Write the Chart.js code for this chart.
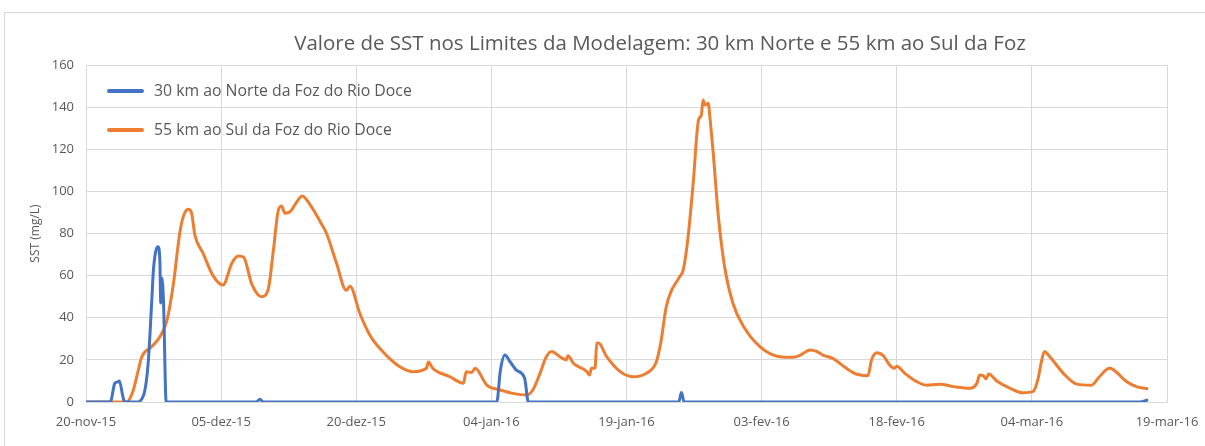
<!DOCTYPE html>
<html>
<head>
<meta charset="utf-8">
<script src="https://cdn.jsdelivr.net/npm/chart.js@4/dist/chart.umd.min.js"></script>
<style>
  html, body { margin: 0; padding: 0; background: #fff; }
  #wrap { position: relative; width: 1205px; height: 446px; }
  #frame { position: absolute; left: 4px; top: 12px; right: 0; bottom: 0;
           border-left: 1px solid #d9d9d9; border-top: 1px solid #d9d9d9; }
  canvas { position: absolute; left: 0; top: 0; }
</style>
</head>
<body>
<div id="wrap">
  <div id="frame"></div>
  <canvas id="sstChart" width="1205" height="446"></canvas>
</div>
<script>
// dados (dias desde 20-nov-15)
const chartTitle = 'Valore de SST nos Limites da Modelagem: 30 km Norte e 55 km ao Sul da Foz';
const yTitle = 'SST (mg/L)';
const xTickLabels = ['20-nov-15', '05-dez-15', '20-dez-15', '04-jan-16', '19-jan-16',
                     '03-fev-16', '18-fev-16', '04-mar-16', '19-mar-16'];

const norteLabel = '30 km ao Norte da Foz do Rio Doce';
const norteDays = [0, 2.7, 3.2, 3.5, 3.7, 4.1, 4.3, 5.6, 6.4, 6.9, 7.3, 7.5, 8.0, 8.2, 8.3, 8.4, 8.6, 8.9,
                   18.9, 19.3, 19.7, 45.6, 46.0, 46.5, 47.1, 47.8, 48.7, 49.1, 65.8, 66.1, 66.4, 117.0, 117.9];
const norteValues = [0, 0, 8.9, 9.5, 10, 2.5, 0, 0, 3.3, 18.4, 48, 63.5, 73.7, 67, 47, 59, 48, 0,
                     0, 1.3, 0, 0, 15, 22.3, 19, 15, 11.2, 0, 0, 4.5, 0, 0, 1];

const sulLabel = '55 km ao Sul da Foz do Rio Doce';
const sulDays = [0, 4.5, 5.2, 5.8, 6.2, 7.3, 8.2, 9.0, 9.7, 10.4, 10.8, 11.35, 11.7, 12.1, 13.0, 14.1, 15.2,
                 16.2, 16.9, 17.5, 18.4, 19.5, 20.2, 20.8, 21.3, 21.7, 22.1, 22.7, 23.4, 24.0, 24.9, 26.0,
                 26.7, 27.8, 28.9, 29.3, 30.4, 31.5, 32.6, 34.8, 36.3, 37.8, 38.0, 38.5, 40.4, 41.9, 42.2,
                 42.8, 43.2, 44.5, 46.0, 47.4, 48.9, 49.6, 50.4, 51.1, 51.7, 52.6, 53.3, 53.5, 54.1, 55.6,
                 55.9, 56.1, 56.5, 56.7, 56.9, 57.8, 59.3, 60.7, 62.2, 63.3, 63.8, 64.4, 65.0, 65.4, 65.9,
                 66.3, 66.8, 67.4, 68.0, 68.3, 68.5, 68.7, 69.1, 69.2, 69.6, 70.2, 70.9, 71.8, 73.0, 74.8,
                 77.0, 78.5, 79.2, 80.4, 81.1, 81.8, 82.9, 84.4, 85.5, 86.8, 87.2, 87.8, 88.5, 89.2, 89.7,
                 90.0, 90.9, 92.2, 93.3, 94.8, 96.3, 98.1, 98.9, 99.2, 99.6, 99.9, 100.2, 101.1, 102.6,
                 104.0, 105.1, 105.7, 106.0, 106.4, 106.9, 108.5, 110.0, 111.6, 112.5, 113.6, 114.0,
                 115.5, 116.6, 117.9];
const sulValues = [0, 0, 5, 15, 21.5, 26.3, 31, 39, 56, 80, 88, 91.5, 90, 79, 70.6, 60, 55.5,
                   66, 69.3, 68.7, 56, 50, 53, 72, 90, 93, 89.6, 90.5, 95, 97.8, 93.5, 85.6,
                   80, 66, 53, 55, 42, 31.8, 25.5, 16.8, 14.4, 16, 19, 16, 12, 8.9, 14.4,
                   14, 16, 8, 5.7, 4.1, 3.3, 5.7, 13.6, 21.5, 24, 21.5, 20, 22, 18.4, 14.4,
                   12.8, 16, 16, 27.9, 28, 21.5, 14.4, 12, 13.6, 19, 28, 45, 53, 56, 59.5,
                   62.7, 77, 103.8, 134, 136, 143.4, 141, 141.8, 138, 119.6, 88, 64, 47, 35.8, 26.3,
                   21.5, 21.2, 22, 24.7, 24, 22.3, 20.7, 16, 13.3, 12.5, 20, 23.4, 22, 17.6, 16,
                   17, 13.6, 9.7, 8, 8.4, 7.3, 6.5, 8.9, 12.8, 12.5, 11, 13.3, 10, 6.5,
                   4.4, 4.9, 11.2, 18, 24, 22, 13.6, 8.5, 8, 12, 16, 15.5,
                   9.7, 7.3, 6.2];

const FONT = '"Open Sans", "Noto Sans", sans-serif';
const TEXT_COLOR = '#595959';

function toPoints(days, values) {
    return days.map((d, i) => ({ x: d, y: values[i] }));
}

// título e legenda desenhados à mão (legenda fica dentro da área do gráfico)
const customText = {
    id: 'customText',
    afterDraw(chart) {
        const ctx = chart.ctx;
        const area = chart.chartArea;
        ctx.save();
        ctx.fillStyle = TEXT_COLOR;
        ctx.font = '20.5px ' + FONT;
        ctx.textAlign = 'center';
        ctx.textBaseline = 'middle';
        ctx.fillText(chartTitle, 660, 44);

        ctx.font = '15.8px ' + FONT;
        ctx.textAlign = 'left';
        chart.data.datasets.forEach((ds, i) => {
            const y = area.top + 26 + i * 39;
            ctx.strokeStyle = ds.borderColor;
            ctx.lineWidth = 4;
            ctx.lineCap = 'round';
            ctx.beginPath();
            ctx.moveTo(area.left + 23, y);
            ctx.lineTo(area.left + 56, y);
            ctx.stroke();
            ctx.fillText(ds.label, area.left + 68, y);
        });
        ctx.restore();
    }
};

const sstChart = new Chart(document.getElementById('sstChart'), {
    type: 'line',
    data: {
        datasets: [
            {
                label: norteLabel,
                data: toPoints(norteDays, norteValues),
                borderColor: '#4472C4',
                borderWidth: 3,
                pointRadius: 0,
                cubicInterpolationMode: 'monotone'
            },
            {
                label: sulLabel,
                data: toPoints(sulDays, sulValues),
                borderColor: '#ED7D31',
                borderWidth: 3,
                pointRadius: 0,
                cubicInterpolationMode: 'monotone'
            }
        ]
    },
    options: {
        responsive: false,
        animation: false,
        layout: { padding: { top: 65, right: 38, bottom: 0, left: 24 } },
        plugins: {
            legend: { display: false },
            title: { display: false },
            tooltip: { enabled: false }
        },
        scales: {
            x: {
                type: 'linear',
                min: 0,
                max: 120,
                ticks: {
                    stepSize: 15,
                    color: TEXT_COLOR,
                    font: { family: FONT, size: 13 },
                    maxRotation: 0,
                    padding: 3,
                    callback: (v) => xTickLabels[Math.round(v / 15)]
                },
                grid: { color: '#d9d9d9', drawTicks: true, tickLength: 9, tickColor: 'rgba(0,0,0,0)' },
                border: { color: '#d9d9d9' },
                afterFit: (scale) => { scale.height = 44; }
            },
            y: {
                min: 0,
                max: 160,
                ticks: {
                    stepSize: 20,
                    color: TEXT_COLOR,
                    font: { family: FONT, size: 13 },
                    padding: 12
                },
                title: {
                    display: true,
                    text: yTitle,
                    color: TEXT_COLOR,
                    font: { family: FONT, size: 12 }
                },
                grid: { color: '#d9d9d9', drawTicks: false },
                border: { color: '#d9d9d9' },
                afterFit: (scale) => { scale.width = 62; }
            }
        }
    },
    plugins: [customText]
});
</script>
</body>
</html>
